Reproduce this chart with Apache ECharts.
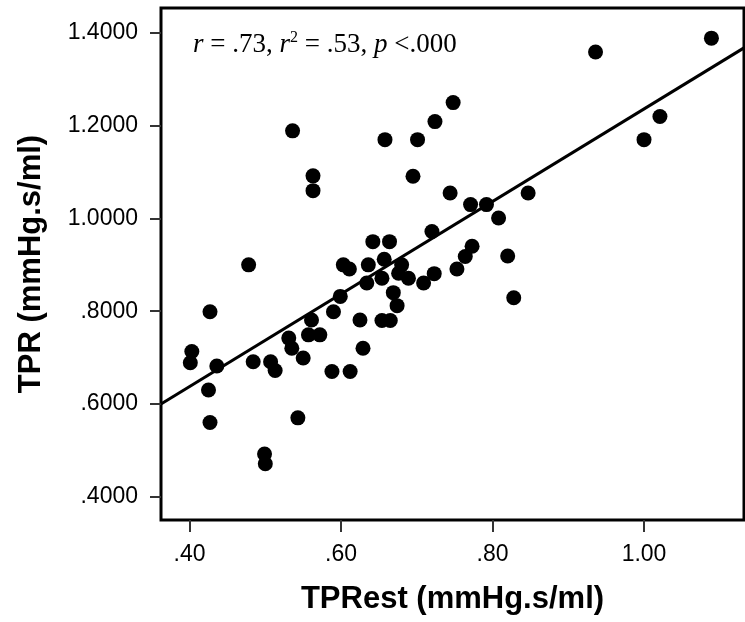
<!DOCTYPE html>
<html><head><meta charset="utf-8">
<script src="https://cdn.jsdelivr.net/npm/echarts@6/dist/echarts.min.js"></script>
<style>html,body{margin:0;padding:0;background:#fff}#c{width:745px;height:622px}</style>
</head><body><div id="c"></div>
<script>
// TPRest (x) values
const tprRest = [0.401,0.403,0.425,0.427,0.427,0.436,0.478,0.484,0.499,0.500,
  0.507,0.513,0.531,0.535,0.536,0.543,0.550,0.557,0.561,0.563,
  0.563,0.572,0.588,0.590,0.599,0.603,0.611,0.612,0.625,0.629,
  0.636,0.634,0.642,0.664,0.657,0.654,0.658,0.654,0.665,0.669,
  0.674,0.676,0.680,0.689,0.695,0.701,0.709,0.720,0.723,0.724,
  0.744,0.748,0.753,0.764,0.773,0.771,0.792,0.808,0.820,0.828,
  0.847,0.936,1.000,1.021,1.089];
// TPR (y) values
const tpr = [0.689,0.713,0.630,0.560,0.799,0.682,0.900,0.691,0.492,0.471,
  0.691,0.672,0.742,0.720,1.189,0.570,0.699,0.749,0.781,1.092,
  1.060,0.749,0.670,0.799,0.832,0.900,0.891,0.670,0.781,0.720,
  0.900,0.861,0.950,0.950,0.912,0.871,1.170,0.780,0.780,0.840,
  0.812,0.882,0.900,0.871,1.091,1.170,0.861,0.972,0.881,1.209,
  1.055,1.250,0.891,0.918,0.940,1.030,1.030,1.001,0.919,0.829,
  1.055,1.359,1.170,1.220,1.389];
// fit line
const fitX = [0.3623, 1.132];
const fitY = [0.600, 1.368];
const xTickValues = [0.4, 0.6, 0.8, 1.0];
const xTickLabels = ['.40', '.60', '.80', '1.00'];
const yTickValues = [0.4, 0.6, 0.8, 1.0, 1.2, 1.4];
const yTickLabels = ['.4000', '.6000', '.8000', '1.0000', '1.2000', '1.4000'];
const xTitle = 'TPRest (mmHg.s/ml)';
const yTitle = 'TPR (mmHg.s/ml)';
const statText = '{i|r} = .73, {i|r}{s|2} = .53, {i|p} <.000';

function lab(vals, labs) {
  return function (v) {
    for (let i = 0; i < vals.length; i++) if (Math.abs(vals[i] - v) < 1e-6) return labs[i];
    return '';
  };
}
const points = tprRest.map((x, i) => [x, tpr[i]]);
const fitData = fitX.map((x, i) => [x, fitY[i]]);

const chart = echarts.init(document.getElementById('c'), null, {renderer: 'canvas'});
chart.setOption({
  animation: false,
  backgroundColor: '#fff',
  grid: {left: 161, right: 1, top: 8, bottom: 102, show: true, borderColor: '#000', borderWidth: 3, backgroundColor: '#fff'},
  xAxis: {
    type: 'value', min: 0.3623, max: 1.132,
    name: xTitle, nameLocation: 'middle', nameGap: 64,
    nameTextStyle: {fontFamily: 'Liberation Sans', fontWeight: 'bold', fontSize: 31, color: '#000'},
    axisLine: {show: false},
    splitLine: {show: false},
    axisTick: {show: true, customValues: xTickValues, length: 12, lineStyle: {color: '#333', width: 2}},
    axisLabel: {customValues: xTickValues, formatter: lab(xTickValues, xTickLabels), margin: 23,
      fontFamily: 'Liberation Sans', fontSize: 23, color: '#000'}
  },
  yAxis: {
    type: 'value', min: 0.3497, max: 1.454,
    name: yTitle, nameLocation: 'middle', nameGap: 114, nameRotate: 90,
    nameTextStyle: {fontFamily: 'Liberation Sans', fontWeight: 'bold', fontSize: 31, color: '#000'},
    axisLine: {show: false},
    splitLine: {show: false},
    axisTick: {show: true, customValues: yTickValues, length: 11, lineStyle: {color: '#333', width: 2}},
    axisLabel: {customValues: yTickValues, formatter: lab(yTickValues, yTickLabels), margin: 23,
      fontFamily: 'Liberation Sans', fontSize: 23, color: '#000'}
  },
  graphic: [{
    type: 'text', left: 193, top: 30, z: 100,
    style: {
      text: statText, fill: '#000', font: '27px "Liberation Serif"',
      rich: {
        i: {fontStyle: 'italic', fontFamily: 'Liberation Serif', fontSize: 27, fill: '#000'},
        s: {fontFamily: 'Liberation Serif', fontSize: 16, fill: '#000', padding: [0, 0, 13, 0]}
      }
    }
  }],
  series: [
    {type: 'scatter', data: points, symbolSize: 15, itemStyle: {color: '#000', opacity: 1}, z: 3},
    {type: 'line', data: fitData, showSymbol: false, symbol: 'none', lineStyle: {color: '#000', width: 3}, z: 4, clip: true}
  ]
});
</script></body></html>
